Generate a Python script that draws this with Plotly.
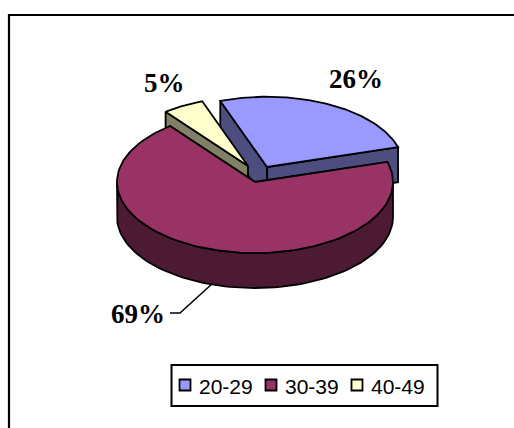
import numpy as np
import plotly.graph_objects as go

categories = ["20-29", "30-39", "40-49"]
values = [26, 69, 5]
labels = ["26%", "69%", "5%"]
top_colors = ["#9999FF", "#993366", "#FFFFCC"]
side_colors = ["#4D4D80", "#4D1A33", "#808066"]

START_DEG = 340
RX, RY = 138, 71
centres = {0: (267, 167), 1: (255, 182), 2: (248, 166)}
radius_scale = {0: 0.99, 1: 1.0, 2: 0.97}
depths = {0: 35, 1: 35, 2: 17}

fig = go.Figure()


def pt(c, scale, ang):
    a = np.radians(ang)
    return c[0] + RX * scale * np.sin(a), c[1] - RY * scale * np.cos(a)


def add_poly(xs, ys, color):
    fig.add_trace(go.Scatter(x=xs, y=ys, mode="lines", fill="toself", fillcolor=color,
                             line=dict(color="black", width=1.8), hoverinfo="skip",
                             showlegend=False))


total = sum(values)
edges = np.concatenate([[0], np.cumsum(values)]) / total * 360 + START_DEG


def draw_slice(i):
    c, s, d = centres[i], radius_scale[i], depths[i]
    a0, a1 = edges[i], edges[i + 1]
    t = np.linspace(a0, a1, 120)
    px, py = pt(c, s, t)
    faces = (a0,) if i == 2 else (a1, a0)
    for a in faces:
        ex, ey = pt(c, s, a)
        add_poly([c[0], ex, ex, c[0], c[0]], [c[1], ey, ey + d, c[1] + d, c[1]], side_colors[i])
    mask = np.cos(np.radians(t)) < 0.0
    if mask.any():
        wx, wy = px[mask], py[mask]
        add_poly([*wx, *wx[::-1], wx[0]], [*wy, *(wy[::-1] + d), wy[0]], side_colors[i])
    add_poly([c[0], *px, c[0]], [c[1], *py, c[1]], top_colors[i])


for i in (0, 2, 1):
    draw_slice(i)

fig.add_trace(go.Scatter(x=[213, 180, 170], y=[283, 313, 313], mode="lines",
                         line=dict(color="black", width=1.5), hoverinfo="skip", showlegend=False))

label_xy = [(355.5, 79), (138, 314), (164, 83)]
for lab, (x, y) in zip(labels, label_xy):
    fig.add_annotation(x=x, y=y, text=f"<b>{lab}</b>", showarrow=False, xanchor="center", yanchor="middle",
                       font=dict(family="Liberation Serif", size=27, color="black"))

# outer frame runs off the right and bottom of the picture
fig.add_shape(type="rect", x0=9, y0=15, x1=530, y1=445, line=dict(color="black", width=2.2))

# legend box, swatches and names
fig.add_shape(type="rect", x0=171.5, y0=365, x1=437.5, y1=406,
              line=dict(color="black", width=2), fillcolor="white", layer="below")
for k, (n, col) in enumerate(zip(categories, top_colors)):
    sx = 185 + 86 * k
    fig.add_trace(go.Scatter(x=[sx], y=[385], mode="markers", name=n, showlegend=False, hoverinfo="name",
                             marker=dict(symbol="square", size=11, color=col,
                                         line=dict(color="black", width=1.8))))
    fig.add_annotation(x=sx + 14, y=386, text=n, showarrow=False, xanchor="left", yanchor="middle",
                       xshift=-2, font=dict(family="Liberation Sans", size=21, color="black"))

fig.update_layout(
    width=514, height=428, margin=dict(l=0, r=0, t=0, b=0),
    paper_bgcolor="white", plot_bgcolor="white", showlegend=False,
    xaxis=dict(range=[0, 514], visible=False, fixedrange=True),
    yaxis=dict(range=[428, 0], visible=False, fixedrange=True),
)
fig.write_html("out.html", config={"displayModeBar": False},
               post_script="document.body.style.margin='0';document.body.style.overflow='hidden';")
